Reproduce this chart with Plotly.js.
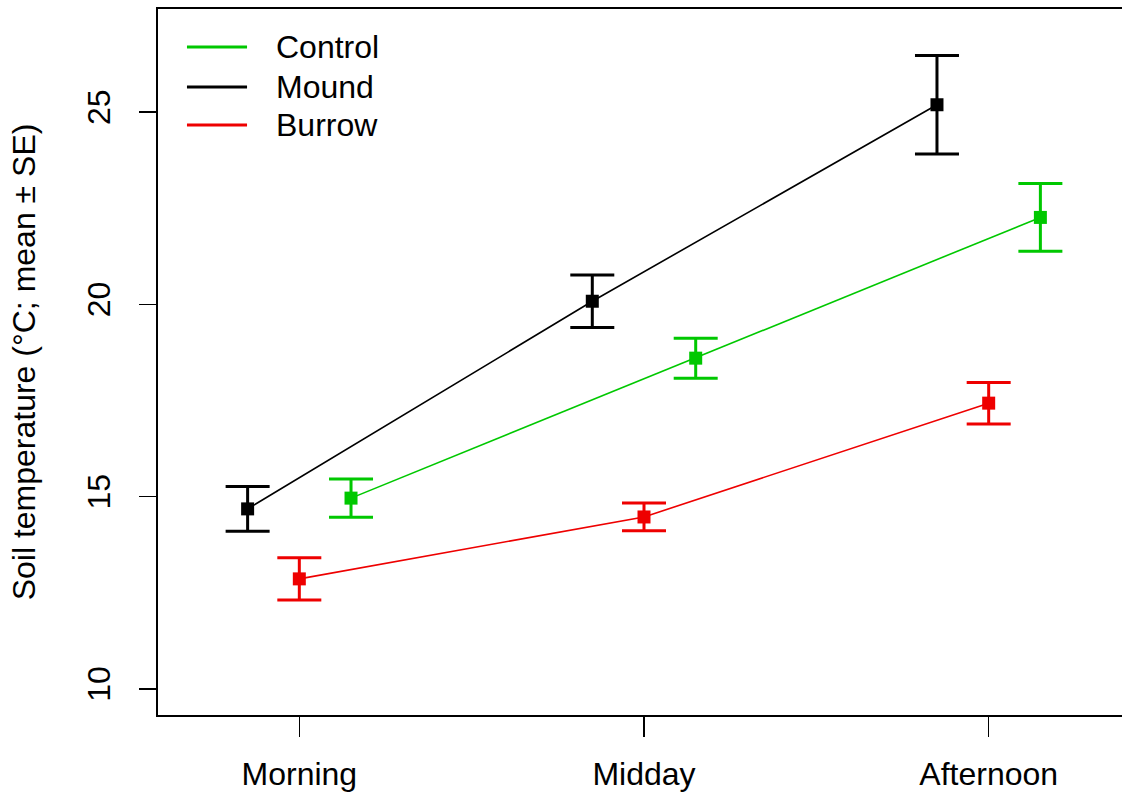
<!DOCTYPE html>
<html>
<head>
<meta charset="utf-8">
<script src="https://cdn.plot.ly/plotly-3.0.1.min.js"></script>
<style>
html,body{margin:0;padding:0;background:#fff;overflow:hidden;width:1122px;height:792px;}
#chart{width:1130px;height:792px;}
</style>
</head>
<body>
<div id="chart"></div>
<script>
// Categories and tick labels
const categories = [1, 2, 3];
const tickLabels = ["Morning", "Midday", "Afternoon"];
const yTicks = [10, 15, 20, 25];

// Series (means and standard errors, °C)
const seriesNames = ["Control", "Mound", "Burrow"];
const controlMean = [14.96, 18.60, 22.26];
const controlSE   = [0.50, 0.52, 0.88];
const moundMean   = [14.68, 20.08, 25.19];
const moundSE     = [0.58, 0.68, 1.28];
const burrowMean  = [12.86, 14.47, 17.43];
const burrowSE    = [0.55, 0.36, 0.54];

// Horizontal dodge per series (in category units)
const dodge = {Control: 0.15, Mound: -0.15, Burrow: 0};
const colors = {Control: "#00C800", Mound: "#000000", Burrow: "#EE0000"};
const means = {Control: controlMean, Mound: moundMean, Burrow: burrowMean};
const ses = {Control: controlSE, Mound: moundSE, Burrow: burrowSE};

const FONT = "Liberation Sans, Arial, sans-serif";

const traces = seriesNames.map(name => ({
  type: "scatter",
  mode: "lines+markers",
  name: name,
  x: categories.map(c => c + dodge[name]),
  y: means[name],
  line: {color: colors[name], width: 1.6},
  marker: {symbol: "square", size: 13, color: colors[name]},
  error_y: {type: "data", array: ses[name], visible: true, color: colors[name], thickness: 3, width: 22},
  showlegend: false,
  hoverinfo: "x+y"
}));

// Custom legend (line samples + labels), as in the base R legend
const legendY = [0.946, 0.8895, 0.8357];
const shapes = seriesNames.map((name, i) => ({
  type: "line", xref: "paper", yref: "paper",
  x0: 0.0298, x1: 0.0916, y0: legendY[i], y1: legendY[i],
  line: {color: colors[name], width: 3}
}));
const annotations = seriesNames.map((name, i) => ({
  xref: "paper", yref: "paper", x: 0.1194, y: legendY[i],
  xanchor: "left", yanchor: "middle", showarrow: false,
  text: name, font: {family: FONT, size: 32, color: "#000"}
}));

const layout = {
  width: 1130, height: 792,
  margin: {l: 158, r: 0, t: 9, b: 77, pad: 0},
  paper_bgcolor: "#fff", plot_bgcolor: "#fff",
  font: {family: FONT, size: 32, color: "#000"},
  xaxis: {
    range: [0.59, 3.41],
    tickvals: categories, ticktext: tickLabels,
    showgrid: false, zeroline: false,
    showline: true, mirror: true, linecolor: "#000", linewidth: 2,
    ticks: "outside", ticklen: 20, tickwidth: 1.6, tickcolor: "#000",
    tickfont: {family: FONT, size: 32},
    ticklabelstandoff: 10,
    automargin: false
  },
  yaxis: {
    range: [9.32, 27.68],
    tickvals: yTicks,
    tickangle: -90,
    showgrid: false, zeroline: false,
    showline: true, mirror: true, linecolor: "#000", linewidth: 2,
    ticks: "outside", ticklen: 17, tickwidth: 1.6, tickcolor: "#000",
    tickfont: {family: FONT, size: 32},
    ticklabelstandoff: 16,
    title: {text: "Soil temperature (°C; mean ± SE)", font: {family: FONT, size: 32}, standoff: 36},
    automargin: false
  },
  shapes: shapes,
  annotations: annotations
};

Plotly.newPlot("chart", traces, layout, {displayModeBar: false, staticPlot: true});
</script>
</body>
</html>
